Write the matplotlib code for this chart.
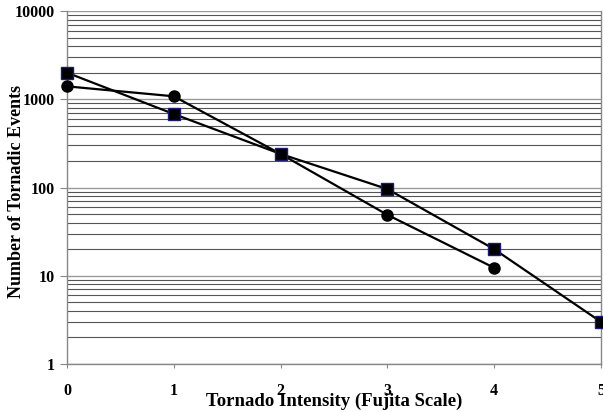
import numpy as np
import matplotlib.pyplot as plt
from matplotlib.ticker import LogLocator, FixedLocator, NullFormatter

# ── Data ────────────────────────────────────────────────────────────
intensity_sq = [0, 1, 2, 3, 4, 5]
events_sq = [2000, 680, 240, 96, 20, 3]

intensity_ci = [0, 1, 2, 3, 4]
events_ci = [1400, 1080, 240, 49, 12.3]

x_ticks = [0, 1, 2, 3, 4, 5]
y_major = [1, 10, 100, 1000, 10000]
y_labels = ["1", "10", "100", "1000", "10000"]

plt.rcParams["font.family"] = ["Liberation Serif", "DejaVu Serif"]
plt.rcParams["font.weight"] = "bold"

fig = plt.figure(figsize=(6.03, 4.12), dpi=100)
ax = fig.add_axes([67 / 603, 1 - 364 / 412, (601 - 67) / 603, (364 - 11) / 412])

ax.set_yscale("log")
ax.set_xlim(0, 5)
ax.set_ylim(1, 10000)

# gridlines: major and minor horizontal
ax.yaxis.set_minor_locator(LogLocator(base=10, subs=np.arange(2, 10)))
ax.yaxis.set_minor_formatter(NullFormatter())
ax.grid(True, which="major", axis="y", color="#9a9a9a", linewidth=1.0)
ax.grid(True, which="minor", axis="y", color="#555555", linewidth=0.8)
ax.set_axisbelow(True)

ax.plot(intensity_ci, events_ci, color="black", linewidth=1.6, marker="o",
        markersize=8, markerfacecolor="black", markeredgecolor="black",
        clip_on=False, zorder=3)
ax.plot(intensity_sq, events_sq, color="black", linewidth=1.6, marker="s",
        markersize=8, markerfacecolor="black", markeredgecolor="#1a1a6e",
        clip_on=False, zorder=4)

ax.xaxis.set_major_locator(FixedLocator(x_ticks))
ax.set_xticklabels([str(v) for v in x_ticks], fontsize=11.5, fontweight="bold")
ax.yaxis.set_major_locator(FixedLocator(y_major))
ax.set_yticklabels(y_labels, fontsize=11.5, fontweight="bold")

ax.tick_params(axis="y", which="major", direction="out", length=5, color="#888888", pad=4)
ax.tick_params(axis="y", which="minor", length=0)
ax.tick_params(axis="x", which="major", direction="out", length=3, color="#888888", pad=11)

for side in ["left", "bottom", "right"]:
    ax.spines[side].set_color("#888888")
    ax.spines[side].set_linewidth(1.0)
ax.spines["top"].set_visible(False)

ax.set_xlabel("Tornado Intensity (Fujita Scale)", fontsize=13.5, fontweight="bold")
ax.xaxis.set_label_coords(0.5, -0.082)
ax.set_ylabel("Number of Tornadic Events", fontsize=13, fontweight="bold")
ax.yaxis.set_label_coords(-0.079, 0.49)

fig.savefig("out.png", dpi=100)
